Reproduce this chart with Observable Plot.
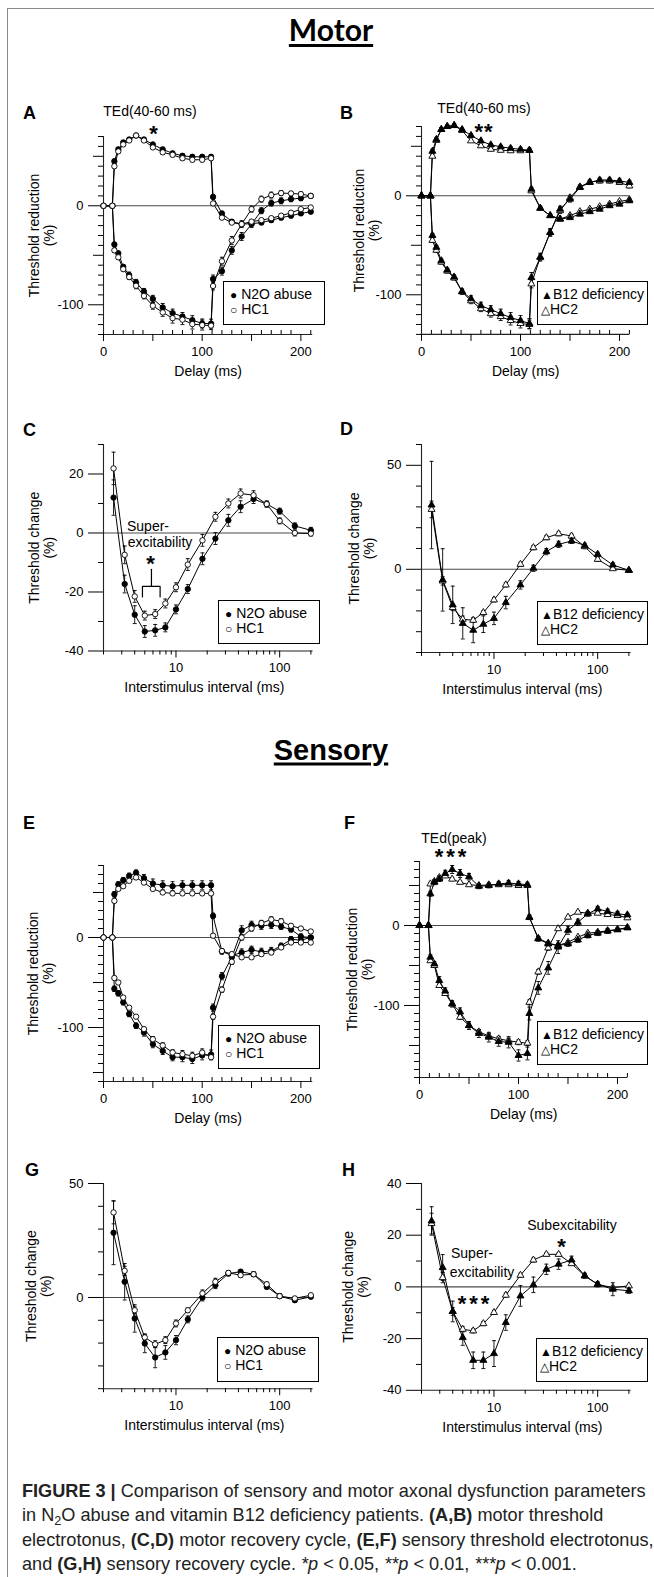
<!DOCTYPE html>
<html><head><meta charset="utf-8">
<script src="https://cdn.jsdelivr.net/npm/d3@7"></script>
<script src="https://cdn.jsdelivr.net/npm/@observablehq/plot@0.6"></script>
<style>
html,body{margin:0;padding:0;background:#fff;}
#root{position:relative;width:654px;height:1577px;overflow:hidden;background:#fff;font-family:"Liberation Sans",Arial,Helvetica,sans-serif;color:#000;}
.t{position:absolute;white-space:nowrap;line-height:1;}
.lg{position:absolute;border:1.5px solid #000;background:#fff;box-sizing:border-box;font-size:14px;}
.lg div{position:absolute;white-space:nowrap;line-height:15px;}
</style></head><body><div id="root"></div>
<script>
// ---------------- DATA ----------------
const teDelay = [0, 9, 11, 15, 20, 26, 33, 41, 50, 60, 70, 80, 90, 100, 109, 111, 120, 130, 140, 150, 160, 170, 180, 190, 200, 210];
const rcDelay = [2.5, 3.2, 4, 5, 6.3, 7.9, 10, 13, 18, 24, 32, 42, 56, 75, 100, 140, 200];

// Panel A (motor TE: N2O abuse vs HC1)
const aPatDep  = [0, 0, 45, 57, 64, 67, 71, 67, 62, 57, 53, 50.5, 49.5, 49.5, 49.5, 9, -7.7, -16, -18.5, -18, -17, -14.5, -12, -10, -7.7, -6];
const aPatDepE = [0, 0, 2, 2, 2, 2, 1.5, 2, 2, 2, 2, 2, 2, 2, 2, 2, 2, 2, 2, 2, 2, 2, 2, 2, 2, 1.5];
const aCtlDep  = [0, 0, 40, 55, 62, 66, 71, 66, 59, 54, 51.5, 48, 46.5, 46.5, 48, 2.4, -12, -17, -18.5, -16, -14.5, -12.5, -10, -7, -3.4, -1.7];
const aCtlDepE = [0, 0, 2, 2, 2, 1.5, 1.5, 1.5, 1.5, 2, 2, 2, 2, 2, 2, 1.5, 1.5, 1.5, 1.5, 1.5, 1.5, 1.5, 1.5, 1.5, 1.5, 1.5];
const aPatHyp  = [0, 0, -39, -48, -61.6, -70, -77.4, -86.5, -94, -102.7, -108.4, -111.8, -115.5, -118.9, -119, -74, -66, -45, -31, -18.5, -5, 2.7, 5, 6.7, 7.7, 10];
const aPatHypE = [0, 0, 2, 2, 2, 3, 3, 3, 3.5, 4, 4, 4, 4.5, 4.5, 4.5, 4, 4, 4, 4, 3.5, 3, 3, 3, 2.5, 2.5, 2];
const aCtlHyp  = [0, 0, -45, -52, -64, -72, -80.8, -91, -101, -107.7, -113.5, -115, -119.5, -120.5, -121, -81, -56, -35, -18.5, -3.4, 6.7, 10.8, 12.8, 12.5, 11.8, 10];
const aCtlHypE = [0, 0, 2, 2, 2, 2.5, 3, 3, 3.5, 4, 5, 5, 5, 5, 4, 4, 4, 4, 3.5, 3, 3, 3, 2.5, 2, 2, 2];

// Panel B (motor TE: B12 deficiency vs HC2)
const bPatDep  = [0, 0, 45, 57, 67, 70, 71, 67, 61, 55.5, 51.5, 49.5, 48, 47, 46, 6.7, -12.5, -20, -23.5, -22, -18.5, -16, -13.5, -10, -8.4, -5];
const bPatDepE = [0, 0, 2, 2, 2, 1.5, 1.5, 1.5, 1.5, 1.5, 1.5, 1.5, 1.5, 1.5, 2, 2, 1.5, 1.5, 1.5, 1.5, 1.5, 1.5, 1.5, 1.5, 1.5, 1.5];
const bCtlDep  = [0, 0, 40, 56, 67, 70, 71, 66, 55.5, 50.5, 47, 46, 45.5, 45.5, 46, 5, -12.5, -20, -23.5, -20, -16, -13.5, -11, -8.4, -5.7, -4];
const bCtlDepE = [0, 0, 1.5, 1.5, 1.5, 1.5, 1.5, 1.5, 1.5, 1.5, 1.5, 1.5, 1.5, 1.5, 1.5, 1.5, 1.5, 1.5, 1.5, 1.5, 1.5, 1.5, 1.5, 1.5, 1.5, 1.5];
const bPatHyp  = [0, 0, -40, -52, -65.6, -75, -82, -96.6, -104, -111, -115, -119, -123, -126, -129, -82.5, -62, -37, -13.5, -3.4, 8.4, 13.5, 16, 16, 15, 13.5];
const bPatHypE = [0, 0, 2, 2, 2, 2, 2, 2.5, 3, 3.5, 4, 4.5, 5, 5, 5, 5, 4, 4, 3, 3, 2, 2, 2, 2, 2, 2];
const bCtlHyp  = [0, 0, -45, -55, -67, -76, -83, -97, -106, -114, -119, -122, -126, -129, -130, -89, -62, -37, -15, -2, 9, 14, 15, 15, 13.5, 10];
const bCtlHypE = [0, 0, 2, 2, 2, 2, 2, 2.5, 3, 3, 3.5, 4, 4.5, 4.5, 4.5, 4, 3, 3, 3, 2.5, 2, 2, 2, 2, 2, 2];

// Panel C (motor RC: N2O vs HC1)
const cPat  = [12, -17.3, -27.7, -33.4, -33, -32, -25.9, -19, -8.75, -1.9, 4.3, 8.9, 11.5, 9.8, 7.4, 2.4, 0.9];
const cPatE = [6, 3, 3, 2, 2, 1.5, 1.5, 1.5, 2, 2, 2, 2, 1.5, 1, 1, 1, 1];
const cCtl  = [21.9, -7.4, -21.5, -28, -27.5, -23.9, -18.4, -10.7, -2.5, 5.5, 10, 13.4, 12.8, 9.8, 4.1, 0, -0.2];
const cCtlE = [5.5, 3, 2, 1.5, 1.5, 1.5, 1.5, 2, 2, 1.5, 1.5, 1.5, 1.5, 1, 1, 1, 0.8];

// Panel D (motor RC: B12 vs HC2)
const dPat  = [30.9, -5.1, -17.1, -26, -29.3, -26.4, -23.6, -16, -7.5, 0.5, 8.5, 12, 13.6, 11.5, 7.2, 2.1, -0.5];
const dPatE = [21, 15, 9, 7.5, 6, 4, 3, 3, 2, 1.5, 1.5, 1.5, 1.2, 1, 1, 1, 0.5];
const dCtl  = [28.8, -5.6, -18.4, -24, -24.5, -20.8, -14.7, -7.5, 2.4, 10.4, 15.2, 17.1, 16, 10.9, 4.8, 0.3, -0.5];
const dCtlE = [4, 2, 1.5, 1.5, 1, 1, 1, 1, 1, 1, 1, 1, 1, 1, 1, 0.5, 0.5];

// Panel E (sensory TE: N2O vs HC1)
const ePatDep  = [0, 0, 48, 59, 63.7, 68.5, 72, 66, 60, 58, 57, 58, 58, 58, 58, 24, -15.5, -20, -16.7, -13.7, -16, -15, -9.3, -2, -3, 0];
const ePatDepE = [0, 0, 3, 3, 3, 3, 3, 4, 5, 5, 5, 5, 5, 5, 5, 3, 3, 3, 4, 4, 4, 4, 3, 3, 3, 2];
const eCtlDep  = [0, 0, 40.7, 54, 57, 63, 66.7, 61, 54, 50, 49, 49, 49, 49, 49, 2, -15, -18.5, -22, -22, -18.5, -16.7, -11, -5.6, -5.6, -5.6];
const eCtlDepE = [0, 0, 2, 2, 2, 2, 2, 2, 2, 2, 2, 2, 2, 2, 2, 2, 2, 2, 2, 2, 2, 2, 2, 2, 2, 2];
const ePatHyp  = [0, 0, -57, -62, -72, -85, -98, -105.6, -118.5, -126, -133, -133, -135, -131, -130, -78, -43, -22, 8, 14, 13, 14, 12, 9, 1, 0];
const ePatHypE = [0, 0, 3, 3, 3, 3, 3, 4, 4, 4, 4, 5, 5, 5, 5, 4, 4, 4, 5, 4, 4, 4, 3, 3, 3, 2];
const eCtlHyp  = [0, 0, -45, -50, -66.7, -78, -88, -101.8, -113, -120, -127.8, -129.6, -131.5, -127.8, -133, -88, -58, -27, 0, 10, 16, 20, 18, 13, 10, 6.7];
const eCtlHypE = [0, 0, 2, 2, 2, 2, 2, 2, 3, 3, 3, 4, 4, 4, 3, 3, 3, 3, 3, 3, 3, 3, 3, 2, 2, 2];

// Panel F (sensory TE: B12 vs HC2)
const fPatDep  = [0, 0, 39.6, 54, 58, 65, 70, 65, 61, 49, 50, 52, 53, 52, 51, 10.4, -16.7, -23, -25, -23, -18, -12.5, -9.6, -7, -5.4, -3];
const fPatDepE = [0, 0, 3, 3, 3, 4, 5, 5, 4, 3, 3, 3, 3, 3, 3, 3, 3, 3, 3, 3, 3, 3, 3, 3, 2, 2];
const fCtlDep  = [0, 0, 52, 55, 60, 62, 58, 54, 51, 50, 50.8, 51, 51, 50, 50, 10, -16, -22, -25, -21, -14.6, -9.6, -8.3, -6.5, -5, -2.5];
const fCtlDepE = [0, 0, 2, 2, 2, 2, 2, 2, 2, 2, 2, 2, 2, 2, 2, 2, 2, 2, 2, 2, 2, 2, 2, 2, 2, 2];
const fPatHyp  = [0, 0, -39.6, -48, -68.8, -82, -98, -108, -125, -135, -139.6, -145, -146, -162.5, -160, -110, -78, -53, -27, -6, 4, 14.6, 20.8, 17.5, 14.6, 13.3];
const fPatHypE = [0, 0, 3, 3, 5, 4, 4, 5, 5, 5, 6, 6, 7, 7, 8, 8, 8, 8, 8, 5, 4, 3, 3, 3, 3, 2];
const fCtlHyp  = [0, 0, -44, -50, -75, -85, -98, -114.6, -125, -133, -138, -141.7, -144, -146, -147, -96, -58, -28, -4, 10.4, 16.7, 15.4, 15.4, 13.75, 12.5, 9.6];
const fCtlHypE = [0, 0, 2, 2, 2, 2, 2, 3, 3, 3, 3, 3, 3, 3, 3, 3, 3, 3, 2, 2, 2, 2, 2, 2, 2, 2];

// Panel G (sensory RC: N2O vs HC1)
const gPat  = [28.4, 6.9, -9.2, -20.2, -26.3, -24.1, -18.7, -9.6, 0, 5.4, 10.5, 11.3, 10.2, 4.7, 0.6, -1.2, 0.3];
const gPatE = [14, 8, 6, 4, 4.5, 3, 2, 1.5, 1.5, 1.5, 1, 1, 1, 1, 1, 1, 0.5];
const gCtl  = [37.3, 11.7, -5.6, -17.5, -20.5, -18.7, -11.4, -5.6, 1.8, 6.9, 10.8, 9.8, 10.2, 5.8, 0.6, -0.4, 1];
const gCtlE = [5, 2, 1.5, 1.5, 1.5, 1.5, 1.5, 1, 1.5, 1.5, 1, 1, 1, 1, 1, 0.6, 0.6];

// Panel H (sensory RC: B12 vs HC2)
const hPat  = [25.5, 7.5, -9.5, -19.6, -28.4, -28.4, -25.8, -13.8, -3.5, 0.8, 6.8, 8.8, 10.4, 4.3, 1, -0.9, -1.5];
const hPatE = [5.5, 5, 4, 3, 3.2, 3.2, 5, 3, 4, 3, 2, 2, 1.5, 1, 1, 2.5, 1];
const hCtl  = [24.5, 3.6, -9.5, -16.4, -17, -14.2, -9.9, -3.2, 4.5, 10.4, 12.6, 12.6, 9, 4.3, 1, -0.3, 0.4];
const hCtlE = [4, 2, 1.5, 1, 0.8, 0.8, 0.8, 0.8, 0.8, 0.8, 0.6, 0.6, 0.6, 0.6, 0.6, 0.6, 0.6];

// Tick labels
const teXLabels = [0, 100, 200];
const rcXLabels = [10, 100];
const rcXMinor = [2, 3, 4, 5, 6, 7, 8, 9, 20, 30, 40, 50, 60, 70, 80, 90, 200];

// Annotation bracket (panel C, data units)
const cBracketX = [4.75, 4.75, 7.03, 7.03];
const cBracketY = [-21.7, -18.1, -18.1, -21.7];
const cStemX = [5.8, 5.8];
const cStemY = [-18.1, -12.3];

// ---------------- DRAWING ----------------
const root = document.getElementById("root");
const FONT = '"Liberation Sans", Arial, Helvetica, sans-serif';

function addText(html, x, y, css, ax = -50, ay = -50) {
  const d = document.createElement("div");
  d.className = "t";
  d.innerHTML = html;
  d.style.cssText += `left:${x}px;top:${y}px;transform:translate(${ax}%,${ay}%);` + css;
  root.appendChild(d);
  return d;
}
function addLegend(box, rows, padL) {
  const d = document.createElement("div");
  d.className = "lg";
  d.style.cssText += `left:${box[0]}px;top:${box[1]}px;width:${box[2]-box[0]}px;height:${box[3]-box[1]}px;`;
  rows.forEach((h, i) => {
    const r = document.createElement("div");
    r.innerHTML = h;
    r.style.top = (5 + 15 * i) + "px";
    r.style.left = padL + "px";
    d.appendChild(r);
  });
  root.appendChild(d);
}

const capSym = {draw(ctx, size) { const w = Math.sqrt(size / Math.PI); ctx.moveTo(-w, 0); ctx.lineTo(w, 0); }};
const fmtY = d => (d < 0 ? "-" : "") + Math.abs(d);
const blank = () => "";

function panel(p) {
  const mL = 100, mR = 30, mT = 16, mB = 56;
  const W = p.x1 - p.x0 + mL + mR, H = p.yBot - p.yTop + mT + mB;
  const [xa, xb] = p.xDomain, [ya, yb] = p.yDomain;
  const excl = (p.yLab || []).concat(p.yMed || []);
  const yMinor = d3.range(ya, yb + 0.01, 10).filter(v => !excl.includes(v));
  const marks = [
    Plot.ruleY([0], {x1: xa, x2: xb, stroke: "#4a4a4a", strokeWidth: 1.1}),
    Plot.ruleX([xa], {y1: ya, y2: yb, stroke: "#222", strokeWidth: 1.1}),
    Plot.ruleY([ya], {x1: xa, x2: xb, stroke: "#222", strokeWidth: 1.1}),
    Plot.axisY({ticks: p.yLab, tickSize: 15, tickPadding: 5, tickFormat: fmtY, label: null, fontSize: 13}),
    Plot.axisY({ticks: yMinor, tickSize: 5, tickFormat: blank, label: null}),
    Plot.axisX({ticks: p.xLab, tickSize: 7, tickPadding: 5, tickFormat: d => String(d), label: null, fontSize: 13}),
    Plot.axisX({ticks: p.xMin, tickSize: 4, dy: p.xMinUp ? -4 : 0, tickFormat: blank, label: null})
  ];
  if (p.yMed) marks.push(Plot.axisY({ticks: p.yMed, tickSize: 10, tickFormat: blank, label: null}));
  if (p.xMed) marks.push(Plot.axisX({ticks: p.xMed, tickSize: 7, tickFormat: blank, label: null}));
  if (p.extra) marks.push(...p.extra);
  const S = p.series.map(s => ({...s, rows: p.xs.map((x, i) => ({x, y: s.y[i], e: s.e ? s.e[i] : 0}))}));
  for (const s of S) marks.push(Plot.line(s.rows, {x: "x", y: "y", stroke: "black", strokeWidth: 1}));
  for (const s of S) {
    const eb = s.rows.filter(d => d.e > 0);
    marks.push(Plot.ruleX(eb, {x: "x", y1: d => d.y - d.e, y2: d => d.y + d.e, stroke: "black", strokeWidth: 0.9}));
    const caps = eb.flatMap(d => [{x: d.x, y: d.y - d.e}, {x: d.x, y: d.y + d.e}]);
    marks.push(Plot.dot(caps, {x: "x", y: "y", symbol: capSym, r: 2, stroke: "black", strokeWidth: 0.9, fill: "none"}));
  }
  for (const s of S) {
    marks.push(Plot.dot(s.rows, {x: "x", y: "y", symbol: s.symbol, r: s.symbol === "circle" ? 2.7 : 2.6,
      fill: s.filled ? "black" : "white", stroke: "black", strokeWidth: 0.9}));
  }
  marks.push(Plot.text([p.yTitle], {text: d => d, frameAnchor: "left", dx: p.ytDx, rotate: -90, fontSize: 14,
    lineHeight: 1.07, textAnchor: "middle", lineAnchor: "middle"}));
  marks.push(Plot.text([p.xTitle], {text: d => d, frameAnchor: "bottom", dx: p.xtDx || 0, dy: p.xtDy, fontSize: 14,
    textAnchor: "middle", lineAnchor: "middle"}));
  const svg = Plot.plot({
    width: W, height: H, marginLeft: mL, marginRight: mR, marginTop: mT, marginBottom: mB,
    x: {type: p.xType, domain: p.xDomain},
    y: {domain: p.yDomain},
    style: `background:transparent;font-family:${FONT};font-size:13px;color:#000;overflow:visible;`,
    marks
  });
  svg.style.position = "absolute";
  svg.style.left = (p.x0 - mL) + "px";
  svg.style.top = (p.yTop - mT) + "px";
  svg.style.maxWidth = "none";
  root.appendChild(svg);
}

const teMinor = d3.range(10, 211, 10).filter(v => v % 50 !== 0);
const logSpan = 103.7;

function tePanel(o) {
  panel(Object.assign({xType: "linear", xs: teDelay, yLab: [0, -100], xLab: teXLabels, xMed: [50, 150],
    xMin: teMinor, xMinUp: true, yTitle: "Threshold reduction\n(%)", xTitle: "Delay (ms)", xtDy: 37}, o));
}
function rcPanel(o) {
  panel(Object.assign({xType: "log", xs: rcDelay, xDomain: [2, 210], xLab: rcXLabels, xMin: rcXMinor,
    yTitle: "Threshold change\n(%)", xTitle: "Interstimulus interval (ms)", xtDy: 37, xtDx: -4,
    x1: o.x0 + Math.log10(105) * logSpan}, o));
}

const circ = (y, e, filled) => ({y, e, filled, symbol: "circle"});
const tri = (y, e, filled) => ({y, e, filled, symbol: "triangle"});

// A
tePanel({x0: 102.7, x1: 102.7 + 212 * 0.987, yTop: 135.7, yBot: 333.7, xDomain: [0, 212], yDomain: [-130, 70],
  yMed: [50, -50], ytDx: -62,
  series: [circ(aPatDep, aPatDepE, true), circ(aPatHyp, aPatHypE, true), circ(aCtlDep, aCtlDepE, false), circ(aCtlHyp, aCtlHypE, false)]});
// B
tePanel({x0: 420.7, x1: 420.7 + 210.5 * 0.99, yTop: 125.7, yBot: 333.6, xDomain: [0, 210.5], yDomain: [-140, 70],
  yMed: [50, -50], ytDx: -55,
  series: [tri(bCtlDep, bCtlDepE, false), tri(bCtlHyp, bCtlHypE, false), tri(bPatDep, bPatDepE, true), tri(bPatHyp, bPatHypE, true)]});
// C
rcPanel({x0: 102.7, yTop: 444.2, yBot: 650.7, yDomain: [-40, 30], yLab: [20, 0, -20, -40], ytDx: -62,
  extra: [
    Plot.line(cBracketX.map((x, i) => ({x, y: cBracketY[i]})), {x: "x", y: "y", stroke: "black", strokeWidth: 1.2}),
    Plot.line(cStemX.map((x, i) => ({x, y: cStemY[i]})), {x: "x", y: "y", stroke: "black", strokeWidth: 1.2})
  ],
  series: [circ(cPat, cPatE, true), circ(cCtl, cCtlE, false)]});
// D
rcPanel({x0: 420.7, yTop: 443.5, yBot: 651.5, yDomain: [-40, 60], yLab: [50, 0], ytDx: -60,
  series: [tri(dCtl, dCtlE, false), tri(dPat, dPatE, true)]});
// E
tePanel({x0: 102.7, x1: 102.7 + 212 * 0.987, yTop: 864.7, yBot: 1080.7, xDomain: [0, 212], yDomain: [-160, 80],
  yMed: [50, -50, -150], ytDx: -63,
  series: [circ(ePatDep, ePatDepE, true), circ(ePatHyp, ePatHypE, true), circ(eCtlDep, eCtlDepE, false), circ(eCtlHyp, eCtlHypE, false)]});
// F
tePanel({x0: 418.5, x1: 418.5 + 210.5 * 0.99, yTop: 861, yBot: 1077, xDomain: [0, 210.5], yDomain: [-190, 80],
  yMed: [50, -50, -150], ytDx: -60,
  series: [tri(fCtlDep, fCtlDepE, false), tri(fCtlHyp, fCtlHypE, false), tri(fPatDep, fPatDepE, true), tri(fPatHyp, fPatHypE, true)]});
// G
rcPanel({x0: 102.7, yTop: 1183.3, yBot: 1388.5, yDomain: [-40, 50], yLab: [50, 0], ytDx: -65,
  series: [circ(gPat, gPatE, true), circ(gCtl, gCtlE, false)]});
// H
rcPanel({x0: 420.7, yTop: 1182.6, yBot: 1389.4, yDomain: [-40, 40], yLab: [40, 20, 0, -20, -40], ytDx: -66,
  series: [tri(hCtl, hCtlE, false), tri(hPat, hPatE, true)]});

// ---------------- TEXT / FRAME ----------------
const fr1 = document.createElement("div");
fr1.style.cssText = "position:absolute;left:7px;top:8px;width:660px;height:1600px;border-top:1.5px solid #8a8a8a;border-left:1.5px solid #8a8a8a;";
root.appendChild(fr1);

addText("Motor", 331, 29, "font-family:Lato,'Open Sans',sans-serif;font-weight:bold;font-size:30px;text-decoration:underline;text-decoration-thickness:2.5px;text-underline-offset:3px;");
addText("Sensory", 331, 750, "font-family:'Liberation Sans',Arial,sans-serif;font-weight:bold;font-size:29px;text-decoration:underline;text-decoration-thickness:2.5px;text-underline-offset:3px;");

const letterCss = "font-weight:bold;font-size:18px;";
[["A", 23, 113], ["B", 340, 113], ["C", 23, 430], ["D", 340, 429], ["E", 23, 823], ["F", 344, 823], ["G", 25, 1170], ["H", 342, 1170]]
  .forEach(([s, x, y]) => addText(s, x, y, letterCss, 0, -50));

const noteCss = "font-size:14px;";
const starCss = "font-size:22px;font-weight:bold;letter-spacing:1px;line-height:0.75;";
addText("TEd(40-60 ms)", 150, 111, noteCss);
addText("*", 154, 134, starCss);
addText("TEd(40-60 ms)", 484, 108, noteCss);
addText("**", 484, 132, starCss);
addText("Super-", 148, 526, noteCss);
addText("excitability", 160, 542, noteCss);
addText("*", 151, 564, starCss);
addText("TEd(peak)", 454, 838, noteCss);
addText("***", 452, 857, starCss + "letter-spacing:3px;");
addText("Subexcitability", 572, 1225, noteCss);
addText("*", 562, 1247, starCss);
addText("Super-", 472, 1253, noteCss);
addText("excitability", 482, 1272, noteCss);
addText("***", 475, 1304, starCss + "letter-spacing:3px;");

const circRows = ['<span style="font-size:12px">●</span> N2O abuse', '<span style="font-size:12px">○</span> HC1'];
const triRows = ['<span style="font-size:12px">▲</span>B12 deficiency', '<span style="font-size:12px">△</span>HC2'];
addLegend([223, 281, 325, 325], circRows, 6);
addLegend([537, 281, 648, 325], triRows, 3);
addLegend([218, 600, 320, 644], circRows, 6);
addLegend([537, 601, 648, 645], triRows, 3);
addLegend([218, 1025, 320, 1069], circRows, 6);
addLegend([537, 1021, 648, 1065], triRows, 3);
addLegend([217, 1337, 319, 1382], circRows, 6);
addLegend([536, 1338, 648, 1382], triRows, 3);

// Caption (font size fitted so the first line spans the same width as the reference)
const cap = document.createElementNS("http://www.w3.org/2000/svg", "svg");
cap.setAttribute("width", 654); cap.setAttribute("height", 110);
cap.style.cssText = "position:absolute;left:0;top:1472px;overflow:visible;";
const capLines = [
  `<tspan font-weight="bold">FIGURE 3 |</tspan> Comparison of sensory and motor axonal dysfunction parameters`,
  `in N<tspan dy="4" font-size="0.7em">2</tspan><tspan dy="-4">O abuse and vitamin B12 deficiency patients. </tspan><tspan font-weight="bold">(A,B)</tspan> motor threshold`,
  `electrotonus, <tspan font-weight="bold">(C,D)</tspan> motor recovery cycle, <tspan font-weight="bold">(E,F)</tspan> sensory threshold electrotonus,`,
  `and <tspan font-weight="bold">(G,H)</tspan> sensory recovery cycle. <tspan font-style="italic">*p</tspan> &lt; 0.05, <tspan font-style="italic">**p</tspan> &lt; 0.01, <tspan font-style="italic">***p</tspan> &lt; 0.001.`
];
cap.innerHTML = capLines.map((l, i) =>
  `<text x="22" y="${25 + 24.3 * i}" font-family="'Liberation Sans Narrow','Arial Narrow','Liberation Sans',sans-serif" font-size="19" fill="#222">${l}</text>`).join("");
root.appendChild(cap);
const texts = cap.querySelectorAll("text");
const natural = texts[0].getComputedTextLength();
if (natural > 0) {
  const fs = Math.min(20, 19 * 624 / natural);
  texts.forEach(t => t.setAttribute("font-size", fs.toFixed(2)));
}
</script></body></html>
